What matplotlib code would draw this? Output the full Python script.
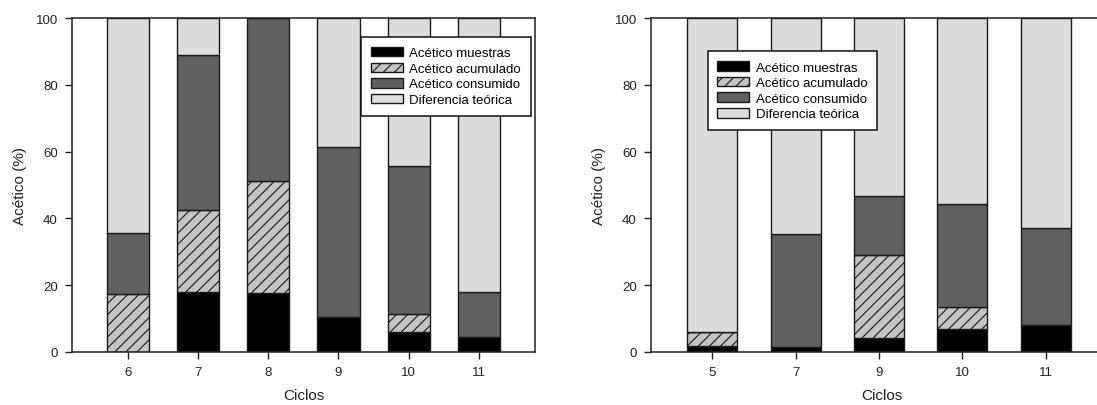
import matplotlib
matplotlib.use("Agg")
import matplotlib.pyplot as plt
import numpy as np

plt.rcParams['font.family'] = ['Liberation Sans', 'DejaVu Sans']
plt.rcParams['hatch.linewidth'] = 0.8
plt.rcParams['hatch.color'] = '#111111'

# Ciclos 6-11 (left panel), % of acetic acid per fraction
ciclos_a = ['6', '7', '8', '9', '10', '11']
muestras_a = [0.0, 18.0, 17.6, 10.5, 5.8, 4.4]
acumulado_a = [17.3, 24.4, 33.6, 0.0, 5.6, 0.0]
consumido_a = [18.3, 46.6, 48.8, 50.9, 44.2, 13.5]
diferencia_a = [64.4, 11.0, 0.0, 38.6, 44.4, 82.1]

# Ciclos 5-11 (right panel)
ciclos_b = ['5', '7', '9', '10', '11']
muestras_b = [1.6, 1.5, 4.1, 6.7, 7.9]
acumulado_b = [4.3, 0.0, 24.8, 6.6, 0.0]
consumido_b = [0.0, 33.8, 17.8, 31.0, 29.3]
diferencia_b = [94.1, 64.7, 53.3, 55.7, 62.8]

labels = ['Acético muestras', 'Acético acumulado', 'Acético consumido', 'Diferencia teórica']
colors = ['#000000', '#c4c4c4', '#606060', '#dcdcdc']
hatches = [None, '///', None, None]


def stacked_panel(ax, ciclos, series, xlim, legend_anchor):
    x = np.arange(len(ciclos))
    bottom = np.zeros(len(ciclos))
    for vals, lab, col, hat in zip(series, labels, colors, hatches):
        vals = np.asarray(vals)
        ax.bar(x, vals, width=0.6, bottom=bottom, color=col, hatch=hat,
               edgecolor='#1a1a1a', linewidth=1.0, label=lab)
        bottom += vals

    ax.set_xlim(*xlim)
    ax.set_ylim(0, 100)
    ax.set_xticks(x)
    ax.set_xticklabels(ciclos)
    ax.set_yticks([0, 20, 40, 60, 80, 100])
    ax.tick_params(direction='out', length=5, width=1, labelsize=9.5,
                   colors='#222222', pad=5)
    for sp in ax.spines.values():
        sp.set_linewidth(1.1)
        sp.set_color('#222222')

    ax.set_xlabel('Ciclos', fontsize=11, color='#222222')
    ax.set_ylabel('Acético (%)', fontsize=11, color='#222222')
    ax.xaxis.set_label_coords(0.5, -0.108)
    ax.yaxis.set_label_coords(-0.097, 0.5)

    leg = ax.legend(loc='upper left', bbox_to_anchor=legend_anchor,
                    bbox_transform=ax.figure.transFigure, fontsize=9.5,
                    frameon=True, fancybox=False, framealpha=1,
                    edgecolor='#111111', borderpad=0.75, labelspacing=0.25,
                    handlelength=2.4, handleheight=0.72, handletextpad=0.5,
                    borderaxespad=0)
    leg.get_frame().set_linewidth(1.1)


fig = plt.figure(figsize=(10.97, 4.06), dpi=100)

ax1 = fig.add_axes([0.0654, 0.1313, 0.4223, 0.8212])
stacked_panel(ax1, ciclos_a,
              [muestras_a, acumulado_a, consumido_a, diferencia_a],
              (-0.8, 5.8), (0.3291, 0.9064))

ax2 = fig.add_axes([0.5932, 0.1313, 0.4223, 0.8212])
stacked_panel(ax2, ciclos_b,
              [muestras_b, acumulado_b, consumido_b, diferencia_b],
              (-0.74, 4.82), (0.645, 0.871))

fig.savefig('out.png', dpi=100)
